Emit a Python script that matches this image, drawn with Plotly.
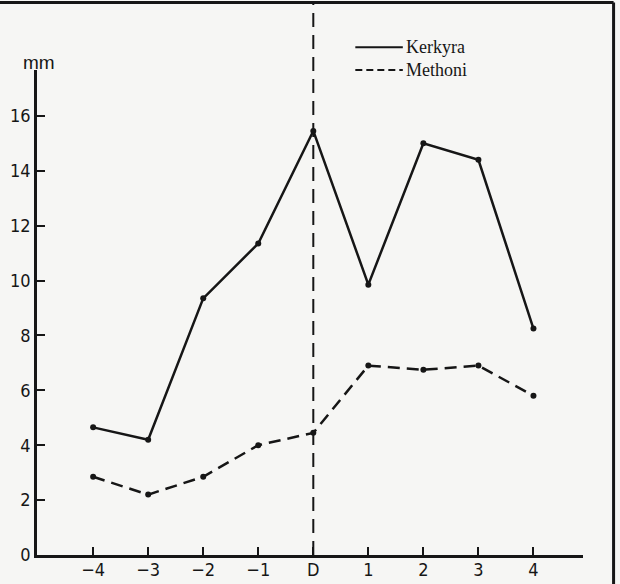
import plotly.graph_objects as go

x_vals = [-4, -3, -2, -1, 0, 1, 2, 3, 4]
x_labels = ["\u22124", "\u22123", "\u22122", "\u22121", "D", "1", "2", "3", "4"]
kerkyra = [4.65, 4.2, 9.35, 11.35, 15.45, 9.85, 15.0, 14.4, 8.25]
methoni = [2.85, 2.2, 2.85, 4.0, 4.45, 6.9, 6.75, 6.9, 5.8]
y_ticks = [0, 2, 4, 6, 8, 10, 12, 14, 16]

ink = "#161616"
tick_font = dict(family="DejaVu Sans Condensed", size=18, color=ink)

fig = go.Figure()
fig.add_trace(go.Scatter(x=x_vals, y=kerkyra, mode="lines+markers", name="Kerkyra",
                         line=dict(color=ink, width=2.5),
                         marker=dict(size=6, color=ink), cliponaxis=False))
fig.add_trace(go.Scatter(x=x_vals, y=methoni, mode="lines+markers", name="Methoni",
                         line=dict(color=ink, width=2.5, dash="12px,7px"),
                         marker=dict(size=6, color=ink), cliponaxis=False))

# vertical dashed line at D
fig.add_shape(type="line", xref="x", yref="paper", x0=0, x1=0, y0=0, y1=1.14,
              line=dict(color=ink, width=2, dash="14px,8px"))
# frame (top and right)
fig.add_shape(type="line", xref="paper", yref="paper", x0=-0.08, x1=1.056, y0=1.139, y1=1.139,
              line=dict(color=ink, width=3))
fig.add_shape(type="line", xref="paper", yref="paper", x0=1.056, x1=1.056, y0=1.139, y1=-0.07,
              line=dict(color=ink, width=3))

# legend
fig.add_shape(type="line", xref="paper", yref="paper", x0=0.583, x1=0.67, y0=1.047, y1=1.047,
              line=dict(color=ink, width=2))
fig.add_shape(type="line", xref="paper", yref="paper", x0=0.583, x1=0.67, y0=1.0, y1=1.0,
              line=dict(color=ink, width=2, dash="7px,4px"))
fig.add_annotation(xref="paper", yref="paper", x=0.672, y=1.047, text="Kerkyra",
                   showarrow=False, xanchor="left", yanchor="middle",
                   font=dict(family="Liberation Serif", size=18, color=ink))
fig.add_annotation(xref="paper", yref="paper", x=0.672, y=1.0, text="Methoni",
                   showarrow=False, xanchor="left", yanchor="middle",
                   font=dict(family="Liberation Serif", size=18, color=ink))
fig.add_annotation(xref="paper", yref="paper", x=0.004, y=1.015, text="mm",
                   showarrow=False, xanchor="center", yanchor="middle",
                   font=dict(family="Liberation Sans", size=19, color=ink))

fig.update_layout(
    width=620, height=584,
    margin=dict(l=37, r=37, t=70, b=29),
    paper_bgcolor="#f6f6f4", plot_bgcolor="#f6f6f4",
    showlegend=False,
    font=dict(family="Liberation Sans", size=17, color=ink),
)
fig.update_xaxes(range=[-5.02, 4.9], tickmode="array", tickvals=x_vals, ticktext=x_labels,
                 showgrid=False, zeroline=False, showline=True, linecolor=ink, linewidth=2.5,
                 ticks="inside", ticklen=8, tickwidth=2, tickcolor=ink, ticklabelstandoff=-3,
                 tickfont=tick_font, automargin=False)
fig.update_yaxes(range=[0, 17.67], tickmode="array", tickvals=y_ticks,
                 showgrid=False, zeroline=False, showline=True, linecolor=ink, linewidth=2.5,
                 ticks="inside", ticklen=8, tickwidth=2, tickcolor=ink, ticklabelstandoff=0,
                 tickfont=tick_font, automargin=False)

fig.write_html("out.html", config={"displayModeBar": False},
               post_script="document.body.style.margin='0';document.body.style.overflow='hidden';")
